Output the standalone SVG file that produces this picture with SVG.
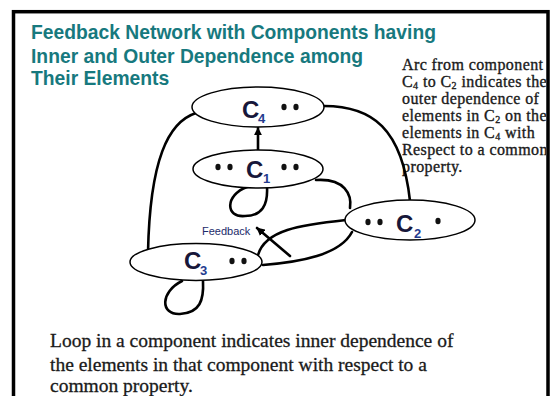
<svg xmlns="http://www.w3.org/2000/svg" width="553" height="396" viewBox="0 0 553 396">
<style>
.title{font-family:"Liberation Sans",Arial,sans-serif;font-weight:bold;font-size:19.3px;fill:#17797e}
.side{font-family:"Liberation Serif","Times New Roman",serif;font-size:16px;letter-spacing:0.4px;fill:#1a1a1a;stroke:#1a1a1a;stroke-width:0.35}
.note{font-family:"Liberation Serif","Times New Roman",serif;font-size:19.5px;fill:#1a1a1a;stroke:#1a1a1a;stroke-width:0.3}
.sm{font-size:10px}
.lbl{font-family:"Liberation Sans",Arial,sans-serif;font-weight:bold;font-size:24px;fill:#17173a}
.sub{font-family:"Liberation Sans",Arial,sans-serif;font-weight:bold;font-size:13px;fill:#243b8f}
.dot{fill:#111}
.node{fill:#fff;stroke:#000;stroke-width:1.5}
.conn{fill:none;stroke:#000;stroke-width:2.6;stroke-linecap:round}
.fb{font-family:"Liberation Sans",Arial,sans-serif;font-size:11px;fill:#1c2a6a}
</style>
<defs>
<marker id="ah" viewBox="0 0 10 10" refX="9" refY="5" markerWidth="3.2" markerHeight="3.2" orient="auto"><path d="M0,0 L10,5 L0,10 z" fill="#000"/></marker>
<clipPath id="frameclip"><rect x="15" y="13" width="531" height="383"/></clipPath>
</defs>
<rect width="553" height="396" fill="#fff"/>
<rect x="13.5" y="11.7" width="534.5" height="400" fill="none" stroke="#000" stroke-width="3.5"/>
<g id="title">
<text class="title" x="31" y="39">Feedback Network with Components having</text>
<text class="title" x="31" y="63">Inner and Outer Dependence among</text>
<text class="title" x="31" y="85">Their Elements</text>
</g>
<g id="side-note" clip-path="url(#frameclip)">
<text class="side" x="402" y="70">Arc from component</text>
<text class="side" x="402" y="87">C<tspan class="sm" dy="2">4</tspan><tspan dy="-2"> to C</tspan><tspan class="sm" dy="2">2</tspan><tspan dy="-2"> indicates the</tspan></text>
<text class="side" x="402" y="104">outer dependence of</text>
<text class="side" x="402" y="121">elements in C<tspan class="sm" dy="2">2</tspan><tspan dy="-2"> on the</tspan></text>
<text class="side" x="402" y="138">elements in C<tspan class="sm" dy="2">4</tspan><tspan dy="-2"> with</tspan></text>
<text class="side" x="402" y="155">Respect to a common</text>
<text class="side" x="402" y="172">property.</text>
</g>
<g id="bottom-note" clip-path="url(#frameclip)">
<text class="note" x="50" y="347">Loop in a component indicates inner dependence of</text>
<text class="note" x="50" y="370.5">the elements in that component with respect to a</text>
<text class="note" x="50" y="392">common property.</text>
</g>
<g id="connectors">
<path class="conn" d="M196,113 C168,122 150,160 148,252"/>
<path class="conn" d="M324,106 C372,106 402,128 410,201"/>
<path class="conn" d="M258,150 L258,128" marker-end="url(#ah)"/>
<path class="conn" d="M316,180 C345,178 352,195 350,208"/>
<path class="conn" d="M247,187 C225,195 225,218 245,216 C262,216 268,205 267,187"/>
<path class="conn" d="M182,281 C160,292 160,315 180,314 C200,313 204,300 203,281"/>
<path class="conn" d="M258,255 C265,230 300,225 346,220"/>
<path class="conn" d="M263,265 C300,262 340,255 352,232"/>
<path class="conn" d="M290,256 L257,228" marker-end="url(#ah)"/>
</g>
<g id="C4">
<ellipse class="node" cx="258" cy="107" rx="66" ry="20"/>
<text class="lbl" x="242" y="118">C</text>
<text class="sub" x="258" y="123">4</text>
<ellipse class="dot" cx="284" cy="107" rx="2.6" ry="3.3"/>
<ellipse class="dot" cx="296" cy="107" rx="2.6" ry="3.3"/>
</g>
<g id="C1">
<ellipse class="node" cx="258" cy="169" rx="65" ry="19"/>
<ellipse class="dot" cx="218" cy="167" rx="2.6" ry="3.3"/>
<ellipse class="dot" cx="230" cy="167" rx="2.6" ry="3.3"/>
<text class="lbl" x="246" y="178">C</text>
<text class="sub" x="263" y="183">1</text>
<ellipse class="dot" cx="284" cy="167" rx="2.6" ry="3.3"/>
<ellipse class="dot" cx="296" cy="167" rx="2.6" ry="3.3"/>
</g>
<g id="C2">
<ellipse class="node" cx="410" cy="220" rx="65" ry="20"/>
<ellipse class="dot" cx="368" cy="222" rx="2.6" ry="3.3"/>
<ellipse class="dot" cx="380" cy="222" rx="2.6" ry="3.3"/>
<text class="lbl" x="396" y="232">C</text>
<text class="sub" x="414" y="238">2</text>
<ellipse class="dot" cx="438" cy="221" rx="2.6" ry="3.3"/>
</g>
<g id="C3">
<ellipse class="node" cx="196" cy="262" rx="66" ry="18.5"/>
<text class="lbl" x="184" y="269">C</text>
<text class="sub" x="200" y="275">3</text>
<ellipse class="dot" cx="232" cy="261" rx="2.6" ry="3.3"/>
<ellipse class="dot" cx="244" cy="261" rx="2.6" ry="3.3"/>
</g>
<g id="feedback-label">
<text class="fb" x="202" y="235">Feedback</text>
</g>
</svg>
